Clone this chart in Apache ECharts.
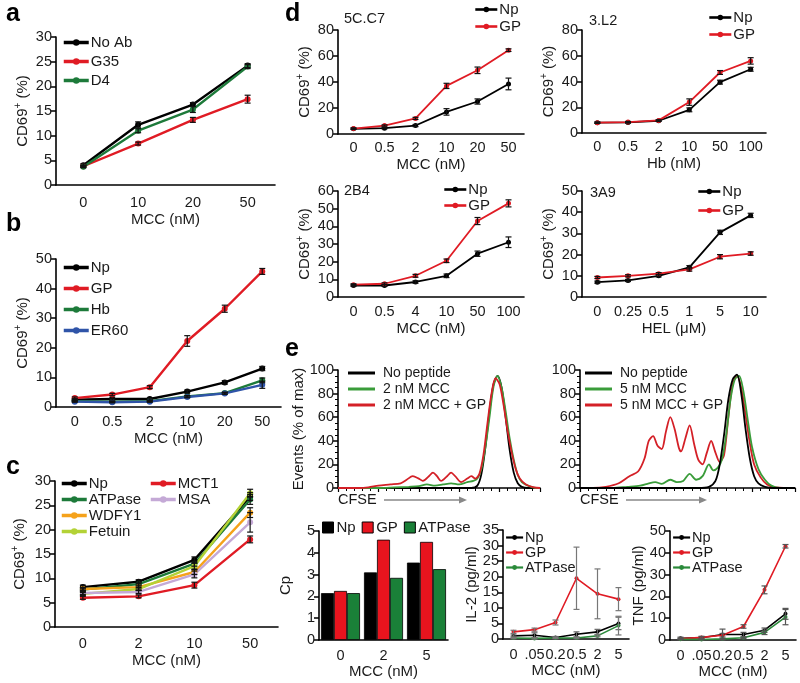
<!DOCTYPE html>
<html><head><meta charset="utf-8">
<script src="https://cdn.jsdelivr.net/npm/echarts@6/dist/echarts.min.js"></script>
<style>html,body{margin:0;padding:0;background:#fff}#c{width:800px;height:683px}</style>
</head><body><div id="c"></div>
<script>
// ---------------- DATA ----------------
// panel a
const a_cats = ['0','10','20','50'];
const a_NoAb = [4.0, 12.2, 16.3, 24.2];
const a_NoAb_err = [0.3, 0.6, 0.4, 0.4];
const a_G35 = [3.8, 8.4, 13.2, 17.4];
const a_G35_err = [0.2, 0.3, 0.5, 0.8];
const a_D4 = [3.7, 11.0, 15.3, 24.0];
const a_D4_err = [0.2, 0.4, 0.6, 0.4];
// panel b
const b_cats = ['0','0.5','2','10','20','50'];
const b_Np = [2.5, 2.7, 2.7, 5.2, 8.3, 13.0];
const b_Np_err = [0.3, 0.3, 0.3, 0.5, 0.6, 0.7];
const b_GP = [3.0, 4.2, 6.7, 22.3, 33.2, 45.8];
const b_GP_err = [0.4, 0.4, 0.5, 1.8, 1.2, 1.0];
const b_Hb = [2.0, 1.8, 2.0, 3.6, 4.7, 9.0];
const b_Hb_err = [0.2, 0.2, 0.2, 0.3, 0.3, 0.8];
const b_ER60 = [1.8, 1.6, 1.8, 3.4, 4.6, 7.5];
const b_ER60_err = [0.2, 0.2, 0.2, 0.3, 0.3, 1.2];
// panel c
const c_cats = ['0','2','10','50'];
const c_Np = [8.2, 9.3, 13.8, 26.8];
const c_Np_err = [0.4, 0.4, 0.6, 0.8];
const c_ATPase = [7.7, 8.8, 13.0, 26.2];
const c_ATPase_err = [0.3, 0.4, 0.5, 1.0];
const c_WDFY1 = [7.8, 8.2, 11.3, 23.5];
const c_WDFY1_err = [0.3, 0.4, 0.5, 1.0];
const c_Fetuin = [6.8, 7.8, 12.5, 27.5];
const c_Fetuin_err = [0.3, 0.3, 0.6, 0.8];
const c_MCT1 = [6.0, 6.3, 8.6, 18.0];
const c_MCT1_err = [0.3, 0.3, 0.6, 0.7];
const c_MSA = [7.0, 7.2, 10.8, 21.5];
const c_MSA_err = [0.3, 0.3, 0.7, 2.0];
// panel d
const d1_cats = ['0','0.5','2','10','20','50'];
const d1_Np = [4.0, 4.5, 6.5, 17.0, 25.0, 38.5];
const d1_Np_err = [0.5, 0.5, 0.8, 2.5, 2.0, 4.5];
const d1_GP = [4.2, 6.5, 12.0, 37.0, 49.0, 64.5];
const d1_GP_err = [0.5, 0.5, 0.8, 2.0, 2.5, 1.0];
const d2_cats = ['0','0.5','2','10','50','100'];
const d2_Np = [8.0, 8.2, 9.5, 18.0, 39.5, 49.5];
const d2_Np_err = [0.5, 0.5, 0.5, 1.5, 1.5, 1.5];
const d2_GP = [8.0, 8.5, 9.8, 24.0, 47.0, 56.0];
const d2_GP_err = [0.5, 0.5, 0.5, 2.5, 1.5, 2.5];
const d3_cats = ['0','0.5','4','10','50','100'];
const d3_Np = [6.5, 6.5, 8.5, 12.0, 24.5, 31.0];
const d3_Np_err = [0.5, 0.5, 0.7, 1.0, 1.5, 3.0];
const d3_GP = [7.0, 7.5, 12.0, 20.5, 43.0, 53.0];
const d3_GP_err = [0.5, 0.5, 0.8, 1.0, 2.0, 2.0];
const d4_cats = ['0','0.25','0.5','1','5','10'];
const d4_Np = [7.0, 7.8, 10.0, 14.0, 30.5, 38.5];
const d4_Np_err = [0.5, 0.5, 0.5, 0.8, 1.0, 1.0];
const d4_GP = [9.2, 10.0, 11.0, 13.0, 19.0, 20.5];
const d4_GP_err = [0.5, 0.5, 0.5, 0.8, 1.0, 0.8];
// panel e histograms: [CFSE position, % of max]
const hL_noPeptide = [[0,0],[60,0],[66,0],[69,2],[71,12],[73,35],[75,65],[77,88],[79,95],[81,85],[83,60],[85,32],[87,13],[89,4],[91,1],[94,0],[100,0]];
const hL_MCC = [[0,0],[20,0],[28,0.5],[35,1],[40,1.5],[44,3],[48,2],[52,3],[56,4],[60,3],[64,5],[67,6],[69,8],[71,16],[73,35],[75,60],[77,86],[79,95],[81,85],[83,65],[85,42],[87,24],[89,11],[91,5],[94,2],[98,0],[100,0]];
const hL_MCCGP = [[0,0],[10,0],[15,0.5],[20,2],[26,3],[31,4],[34,7],[37,10],[40,8],[42,6],[45,10],[47,13],[49,10],[51,6],[54,10],[56,13],[58,10],[61,5],[64,8],[66,10],[68,8],[70,12],[72,28],[74,55],[76,80],[78,93],[80,88],[82,70],[84,48],[86,30],[88,16],[90,8],[93,3],[97,0.5],[100,0]];
const hR_noPeptide = [[0,0],[55,0],[60,1],[63,6],[65,20],[67,45],[69,75],[71,92],[73,96],[75,80],[77,50],[79,25],[81,10],[83,4],[86,1],[90,0],[100,0]];
const hR_MCC = [[0,0],[15,0],[22,1],[28,2],[32,4],[35,5],[38,3.5],[42,7],[45,5],[48,6],[51,12],[54,7],[57,10],[60,20],[62,15],[64,17],[66,24],[68,45],[70,75],[72,92],[74,95],[76,82],[78,58],[80,35],[83,16],[86,7],[89,2],[93,0],[100,0]];
const hR_MCCGP = [[0,0],[6,0],[12,1],[18,4],[23,10],[27,14],[30,25],[32,40],[34,44],[36,36],[38,33],[40,48],[42,60],[44,50],[46,34],[47,31],[49,42],[51,53],[53,38],[55,24],[57,20],[59,30],[61,40],[63,30],[65,22],[67,28],[69,60],[71,88],[73,95],[75,85],[77,62],[79,38],[81,20],[84,9],[87,3],[91,0.5],[100,0]];
// panel e bottom
const eb_cats = ['0','2','5'];
const eb_Np = [2.15, 3.1, 3.55];
const eb_GP = [2.25, 4.6, 4.5];
const eb_ATPase = [2.15, 2.85, 3.25];
const il_cats = ['0','.05','0.2','0.5','2','5'];
const il_Np = [1.0, 1.2, 0.5, 1.5, 2.3, 5.0];
const il_Np_err = [0.3, 0.8, 0.3, 0.8, 0.8, 2.0];
const il_GP = [2.3, 3.0, 5.3, 19.5, 14.5, 12.8];
const il_GP_err = [0.5, 0.5, 0.8, 10.0, 8.0, 3.7];
const il_ATPase = [0.3, 0.2, 0.3, 0.3, 1.0, 4.3];
const il_ATPase_err = [0.2, 0.2, 0.2, 0.2, 0.3, 3.0];
const tnf_cats = ['0','.05','0.2','0.5','2','5'];
const tnf_Np = [0.8, 1.0, 2.5, 2.5, 4.5, 12.0];
const tnf_Np_err = [0.5, 0.5, 2.5, 1.0, 1.0, 2.5];
const tnf_GP = [0.5, 1.2, 2.2, 6.2, 23.0, 43.0];
const tnf_GP_err = [0.3, 0.5, 0.8, 0.8, 1.8, 0.8];
const tnf_ATPase = [0.3, 0.2, 0.5, 1.0, 3.5, 10.5];
const tnf_ATPase_err = [0.2, 0.2, 0.3, 0.3, 1.0, 3.5];

// ---------------- STYLE ----------------
const F = '"Liberation Sans", Arial, Helvetica, sans-serif';
const C = {black:'#000000', red:'#e01b24', green:'#1d7a3a', blue:'#2f54a8', orange:'#f5a21b', lime:'#b3d236', lav:'#c4a9d6', hgreen:'#3a9c3a', hred:'#d42027', egreen:'#2a8a3a'};
const TXT = '#1a1a1a';
const TFS = 14.5;   // tick label size
const NFS = 15;     // axis name size
const LFS = 15;     // legend size

const option = {animation:false, backgroundColor:'#fff', textStyle:{fontFamily:F},
  grid:[], xAxis:[], yAxis:[], series:[], legend:[], graphic:[]};

const yRich = {sup:{fontSize:10, verticalAlign:'top', padding:[0,0,9,0], color:TXT, fontFamily:F}, n:{fontSize:NFS,color:TXT,fontFamily:F}};

function errData(vals, errs){ return vals.map((v,i)=>[i, v-errs[i], v+errs[i]]); }

function errSeries(gi, vals, errs, color, lw, cap){
  return {type:'custom', xAxisIndex:gi, yAxisIndex:gi, z:5, silent:true,
    data: errData(vals, errs), encode:{x:0, y:[1,2]},
    renderItem:function(params, api){
      const x = api.value(0);
      const t = api.coord([x, api.value(2)]);
      const b = api.coord([x, api.value(1)]);
      const st = {stroke:color, lineWidth:lw};
      return {type:'group', children:[
        {type:'line', shape:{x1:t[0], y1:t[1], x2:b[0], y2:b[1]}, style:st},
        {type:'line', shape:{x1:t[0]-cap, y1:t[1], x2:t[0]+cap, y2:t[1]}, style:st},
        {type:'line', shape:{x1:b[0]-cap, y1:b[1], x2:b[0]+cap, y2:b[1]}, style:st}
      ]};
    }};
}

function panel(p){
  const gi = option.grid.length;
  option.grid.push({left:p.left, top:p.top, width:p.width, height:p.height});
  option.xAxis.push({type:'category', gridIndex:gi, data:p.cats, boundaryGap:true,
    axisLine:{lineStyle:{color:'#000', width:1.6}},
    axisTick:{alignWithLabel:!!p.align, length:5, lineStyle:{color:'#000', width:1.5}},
    axisLabel:{color:TXT, fontSize:p.fs||TFS, margin:p.xm||8, interval:0, fontFamily:F},
    name:p.xname, nameLocation:'middle', nameGap:p.xgap||27,
    nameTextStyle:{fontSize:NFS, color:TXT, fontFamily:F}});
  option.yAxis.push({type:'value', gridIndex:gi, min:0, max:p.max, interval:p.step,
    splitLine:{show:false},
    axisLine:{show:true, lineStyle:{color:'#000', width:1.6}},
    axisTick:{show:true, length:5, lineStyle:{color:'#000', width:1.5}},
    axisLabel:{color:TXT, fontSize:p.fs||TFS, margin:4, fontFamily:F},
    name:p.yname, nameLocation:'middle', nameGap:p.ygap||30, nameRotate:90,
    nameTextStyle:{rich:yRich, fontSize:NFS, color:TXT, fontFamily:F}});
  p.series.forEach(s=>{
    option.series.push({type:'line', name:s.name, xAxisIndex:gi, yAxisIndex:gi, data:s.data,
      symbol:'circle', symbolSize:p.sym||6, z:4,
      lineStyle:{color:s.color, width:p.lw||2.2}, itemStyle:{color:s.color}});
    if (s.err) option.series.push(errSeries(gi, s.data, s.err, s.ecolor||'#111', 1.2, 3));
  });
  return gi;
}

function lineLegend(names, left, top, opts){
  opts = opts || {};
  option.legend.push(Object.assign({data:names, left:left, top:top, orient:opts.orient||'vertical',
    itemWidth:opts.iw||25, itemHeight:opts.ih||8, itemGap:opts.gap==null?4:opts.gap, padding:0,
    selectedMode:false,
    lineStyle:{width:opts.llw||3.5},
    formatter:function(n){return n.split(':')[1];},
    textStyle:{fontSize:opts.fs||LFS, color:TXT, fontFamily:F, padding:[0,0,0,-3]}}, opts.extra||{}));
}

const sup = '{n|CD69}{sup|+}{n| (%)}';

// ---- panel a
panel({left:56, top:37, width:219, height:148, cats:a_cats, max:30, step:5, align:true,
  xname:'MCC (nM)', xm:10, xgap:27, yname:sup, ygap:24, lw:2.4,
  series:[{name:'a:No Ab', data:a_NoAb, err:a_NoAb_err, color:C.black},
          {name:'a:G35', data:a_G35, err:a_G35_err, color:C.red},
          {name:'a:D4', data:a_D4, err:a_D4_err, color:C.green}]});
lineLegend(['a:No Ab','a:G35','a:D4'], 62, 35, {gap:4});

// ---- panel b
panel({left:56, top:259, width:225, height:148, cats:b_cats, max:50, step:10, align:true,
  xname:'MCC (nM)', xm:7, xgap:24, yname:sup, ygap:24, lw:2.4,
  series:[{name:'b:Np', data:b_Np, err:b_Np_err, color:C.black},
          {name:'b:GP', data:b_GP, err:b_GP_err, color:C.red},
          {name:'b:Hb', data:b_Hb, err:b_Hb_err, color:C.green},
          {name:'b:ER60', data:b_ER60, err:b_ER60_err, color:C.blue}]});
lineLegend(['b:Np','b:GP','b:Hb','b:ER60'], 62, 260, {gap:6});

// ---- panel c
panel({left:55, top:481, width:223, height:146, cats:c_cats, max:30, step:5, align:true,
  xname:'MCC (nM)', xm:9, xgap:26, yname:sup, ygap:26, lw:2.4,
  series:[{name:'c:Np', data:c_Np, err:c_Np_err, color:C.black},
          {name:'c:ATPase', data:c_ATPase, err:c_ATPase_err, color:C.green},
          {name:'c:WDFY1', data:c_WDFY1, err:c_WDFY1_err, color:C.orange},
          {name:'c:Fetuin', data:c_Fetuin, err:c_Fetuin_err, color:C.lime},
          {name:'c:MCT1', data:c_MCT1, err:c_MCT1_err, color:C.red},
          {name:'c:MSA', data:c_MSA, err:c_MSA_err, color:C.lav}]});
lineLegend(['c:Np','c:ATPase','c:WDFY1','c:Fetuin'], 60, 476, {gap:1});
lineLegend(['c:MCT1','c:MSA'], 149, 476, {gap:1});

// ---- panel d
panel({left:338, top:30, width:186, height:104, cats:d1_cats, max:80, step:20,
  xname:'MCC (nM)', xm:6, xgap:23, yname:sup, ygap:24, lw:1.8, sym:5,
  series:[{name:'d1:Np', data:d1_Np, err:d1_Np_err, color:C.black},
          {name:'d1:GP', data:d1_GP, err:d1_GP_err, color:C.red}]});
lineLegend(['d1:Np','d1:GP'], 474, 2, {gap:2, iw:22, llw:2.6, ih:7});
panel({left:582, top:30, width:184, height:103, cats:d2_cats, max:80, step:20,
  xname:'Hb (nM)', xm:6, xgap:23, yname:sup, ygap:24, lw:1.8, sym:5,
  series:[{name:'d2:Np', data:d2_Np, err:d2_Np_err, color:C.black},
          {name:'d2:GP', data:d2_GP, err:d2_GP_err, color:C.red}]});
lineLegend(['d2:Np','d2:GP'], 708, 10, {gap:2, iw:22, llw:2.6, ih:7});
panel({left:338, top:191, width:186, height:106, cats:d3_cats, max:60, step:10,
  xname:'MCC (nM)', xm:7, xgap:24, yname:sup, ygap:24, lw:1.8, sym:5,
  series:[{name:'d3:Np', data:d3_Np, err:d3_Np_err, color:C.black},
          {name:'d3:GP', data:d3_GP, err:d3_GP_err, color:C.red}]});
lineLegend(['d3:Np','d3:GP'], 443, 182, {gap:1, iw:22, llw:2.6, ih:7});
panel({left:582, top:191, width:184, height:106, cats:d4_cats, max:50, step:10,
  xname:'HEL (\u03bcM)', xm:7, xgap:24, yname:sup, ygap:24, lw:1.8, sym:5,
  series:[{name:'d4:Np', data:d4_Np, err:d4_Np_err, color:C.black},
          {name:'d4:GP', data:d4_GP, err:d4_GP_err, color:C.red}]});
lineLegend(['d4:Np','d4:GP'], 697, 184, {gap:4, iw:22, llw:2.6, ih:7});

// ---- panel e histograms
function hist(left, width, curves, yname){
  const gi = option.grid.length;
  option.grid.push({left:left, top:370, width:width, height:118});
  option.xAxis.push({type:'value', gridIndex:gi, min:0, max:100, interval:20,
    axisLine:{lineStyle:{color:'#000', width:1.6}}, splitLine:{show:false},
    axisTick:{show:true, length:4, lineStyle:{color:'#000', width:1.2}},
    minorTick:{show:true, splitNumber:5, length:3, lineStyle:{color:'#000', width:1}},
    axisLabel:{show:false}});
  option.yAxis.push({type:'value', gridIndex:gi, min:0, max:100, interval:20, splitLine:{show:false},
    axisLine:{show:true, lineStyle:{color:'#000', width:1.6}},
    axisTick:{show:true, length:5, lineStyle:{color:'#000', width:1.5}},
    minorTick:{show:true, splitNumber:4, length:3, lineStyle:{color:'#000', width:1}},
    axisLabel:{color:TXT, fontSize:TFS, margin:4, fontFamily:F},
    name:yname||'', nameLocation:'middle', nameGap:30, nameTextStyle:{fontSize:NFS, color:TXT, fontFamily:F}});
  curves.forEach(cv=>{
    option.series.push({type:'line', name:cv.name, xAxisIndex:gi, yAxisIndex:gi, data:cv.data,
      smooth:0.3, showSymbol:false, symbol:'none', z:cv.z||3,
      lineStyle:{color:cv.color, width:1.8}, itemStyle:{color:cv.color}});
  });
}
hist(338, 202, [
  {name:'eL:No peptide', data:hL_noPeptide, color:C.black, z:3},
  {name:'eL:2 nM MCC', data:hL_MCC, color:C.hgreen, z:4},
  {name:'eL:2 nM MCC + GP', data:hL_MCCGP, color:C.hred, z:5}], 'Events (% of max)');
hist(580, 215, [
  {name:'eR:No peptide', data:hR_noPeptide, color:C.black, z:5},
  {name:'eR:5 nM MCC', data:hR_MCC, color:C.hgreen, z:4},
  {name:'eR:5 nM MCC + GP', data:hR_MCCGP, color:C.hred, z:3}]);
const hleg = {gap:2, iw:27, ih:3, extra:{icon:'rect', textStyle:{fontSize:14,color:TXT,fontFamily:F,padding:[0,0,0,3]}}};
lineLegend(['eL:No peptide','eL:2 nM MCC','eL:2 nM MCC + GP'], 348, 366, hleg);
lineLegend(['eR:No peptide','eR:5 nM MCC','eR:5 nM MCC + GP'], 585, 366, hleg);

// ---- panel e bar chart
(function(){
  const gi = option.grid.length;
  option.grid.push({left:319, top:531, width:129, height:109});
  option.xAxis.push({type:'category', gridIndex:gi, data:eb_cats,
    axisLine:{lineStyle:{color:'#000', width:1.6}},
    axisTick:{length:5, lineStyle:{color:'#000', width:1.5}},
    axisLabel:{color:TXT, fontSize:TFS, margin:8, fontFamily:F},
    name:'MCC (nM)', nameLocation:'middle', nameGap:22, nameTextStyle:{fontSize:NFS, color:TXT, fontFamily:F}});
  option.yAxis.push({type:'value', gridIndex:gi, min:0, max:5, interval:1, splitLine:{show:false},
    axisLine:{show:true, lineStyle:{color:'#000', width:1.6}},
    axisTick:{show:true, length:5, lineStyle:{color:'#000', width:1.5}},
    axisLabel:{color:TXT, fontSize:TFS, margin:4, fontFamily:F},
    name:'Cp', nameLocation:'middle', nameGap:26, nameTextStyle:{fontSize:NFS, color:TXT, fontFamily:F}});
  [['eb:Np', eb_Np, '#000'], ['eb:GP', eb_GP, '#e8141e'], ['eb:ATPase', eb_ATPase, '#1a8038']].forEach(s=>{
    option.series.push({type:'bar', name:s[0], xAxisIndex:gi, yAxisIndex:gi, data:s[1],
      barWidth:13, barGap:'0%', itemStyle:{color:s[2], borderColor:'#000', borderWidth:0.8}});
  });
  option.legend.push({data:['eb:Np','eb:GP','eb:ATPase'], left:322, top:520, orient:'horizontal',
    itemWidth:11, itemHeight:11, itemGap:6, padding:0, selectedMode:false, icon:'rect',
    itemStyle:{borderColor:'#000', borderWidth:1},
    formatter:function(n){return n.split(':')[1];},
    textStyle:{fontSize:LFS, color:TXT, fontFamily:F, padding:[0,0,0,-2]}});
})();

// ---- IL-2 & TNF
panel({left:503, top:530, width:126, height:109, cats:il_cats, max:35, step:5,
  xname:'MCC (nM)', xm:8, xgap:23, yname:'IL-2 (pg/ml)', ygap:22, lw:1.6, sym:4,
  series:[{name:'il:Np', data:il_Np, err:il_Np_err, color:C.black, ecolor:'#666'},
          {name:'il:GP', data:il_GP, err:il_GP_err, color:C.red, ecolor:'#777'},
          {name:'il:ATPase', data:il_ATPase, err:il_ATPase_err, color:C.egreen, ecolor:'#777'}]});
lineLegend(['il:Np','il:GP','il:ATPase'], 505, 530, {gap:0, iw:17, ih:6, fs:14.5, llw:2.2});
panel({left:670, top:531, width:126, height:109, cats:tnf_cats, max:50, step:10,
  xname:'MCC (nM)', xm:8, xgap:23, yname:'TNF (pg/ml)', ygap:24, lw:1.6, sym:4,
  series:[{name:'tnf:Np', data:tnf_Np, err:tnf_Np_err, color:C.black, ecolor:'#555'},
          {name:'tnf:GP', data:tnf_GP, err:tnf_GP_err, color:C.red, ecolor:'#555'},
          {name:'tnf:ATPase', data:tnf_ATPase, err:tnf_ATPase_err, color:C.egreen, ecolor:'#555'}]});
lineLegend(['tnf:Np','tnf:GP','tnf:ATPase'], 672, 530, {gap:0, iw:17, ih:6, fs:14.5, llw:2.2});

// ---- graphics: panel letters, subtitles, CFSE arrows
const lbl = (t,x,y)=>({type:'text', left:x, top:y, style:{text:t, font:'bold 25px '+F, fill:'#000'}});
const sub = (t,x,y)=>({type:'text', left:x, top:y, style:{text:t, font:'14.5px '+F, fill:TXT}});
option.graphic = [
  lbl('a',6,2), lbl('b',6,212), lbl('c',6,455), lbl('d',285,2), lbl('e',285,337),
  sub('5C.C7',344,11), sub('3.L2',589,13), sub('2B4',344,183), sub('3A9',590,185),
  sub('CFSE',338,492), sub('CFSE',580,492),
  {type:'line', shape:{x1:384,y1:500,x2:462,y2:500}, style:{stroke:'#888', lineWidth:1.5}},
  {type:'polygon', shape:{points:[[467,500],[459,496.5],[459,503.5]]}, style:{fill:'#888'}},
  {type:'line', shape:{x1:626,y1:500,x2:702,y2:500}, style:{stroke:'#888', lineWidth:1.5}},
  {type:'polygon', shape:{points:[[707,500],[699,496.5],[699,503.5]]}, style:{fill:'#888'}}
];

const chart = echarts.init(document.getElementById('c'), null, {renderer:'canvas'});
chart.setOption(option);
</script></body></html>
